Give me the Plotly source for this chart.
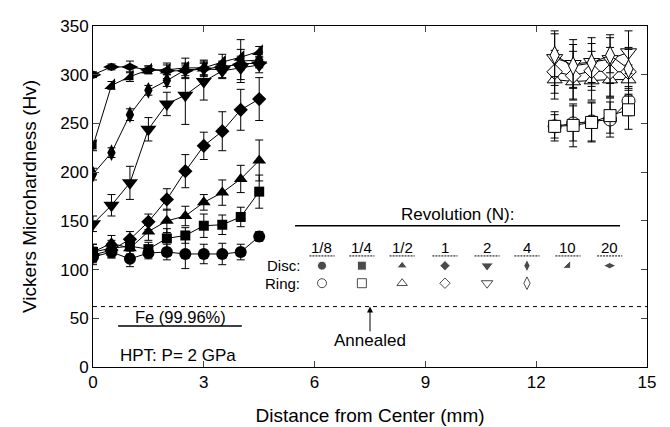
import plotly.graph_objects as go

# ---------------- data ----------------
x_disc = [0, 0.5, 1, 1.5, 2, 2.5, 3, 3.5, 4, 4.5]
disc_18 = [113, 118, 111, 117, 118, 116, 116, 116, 118, 134]
err_18 = [8, 6, 8, 6, 8, 15, 10, 11, 8, 5]
disc_14 = [118, 122, 124, 121, 132, 135, 145, 146, 154, 180]
err_14 = [8, 8, 8, 7, 10, 8, 12, 10, 10, 17]
disc_12 = [118, 127, 122, 139, 150, 155, 169, 179, 193, 212]
err_12 = [8, 8, 8, 9, 12, 10, 8, 13, 14, 21]
disc_1 = [115, 120, 131, 149, 172, 201, 227, 242, 264, 275]
err_1 = [8, 8, 8, 8, 11, 17, 14, 20, 21, 22]
disc_2 = [147, 166, 189, 244, 270, 279, 293, 304, 307, 310]
err_2 = [8, 11, 17, 12, 12, 30, 19, 8, 12, 8]
disc_4 = [198, 220, 259, 284, 294, 305, 306, 305, 314, 315]
err_4 = [6, 5, 6, 5, 6, 6, 8, 8, 22, 8]
disc_10 = [227, 289, 298, 305, 305, 307, 307, 313, 318, 324]
err_10 = [5, 4, 5, 4, 5, 10, 8, 8, 8, 5]
disc_20 = [300, 308, 308, 305, 304, 304, 306, 308, 311, 312]
err_20 = [3, 3, 6, 4, 8, 8, 6, 6, 6, 4]

x_ring = [12.5, 13, 13.5, 14, 14.5]
ring_18 = [247, 250, 252, 254, 273]
rerr_18 = [15, 18, 20, 18, 15]
ring_14 = [247, 248, 251, 258, 264]
rerr_14 = [12, 22, 20, 18, 20]
ring_12 = [295, 293, 294, 295, 295]
rerr_12 = [20, 18, 20, 18, 15]
ring_1 = [303, 299, 304, 303, 303]
rerr_1 = [22, 25, 20, 25, 25]
ring_2 = [317, 311, 313, 316, 323]
rerr_2 = [28, 25, 25, 25, 22]
ring_4 = [320, 309, 312, 320, 306]
rerr_4 = [22, 22, 20, 18, 20]

annealed_hv = 62
revolutions = ["1/8", "1/4", "1/2", "1", "2", "4", "10", "20"]

# ---------------- styles ----------------
disc_sym = ["circle", "square", "triangle-up", "diamond", "triangle-down",
            "diamond-tall", "triangle-se", "diamond-wide"]
disc_size = [12, 10, 12, 11, 14, 12, 12, 12]
ring_sym = ["circle", "square", "triangle-up", "diamond", "triangle-down", "diamond-tall"]
ring_size = [13, 12, 13, 12, 14, 13]

FONT = "Liberation Sans, Arial, sans-serif"
fig = go.Figure()

disc_y = [disc_18, disc_14, disc_12, disc_1, disc_2, disc_4, disc_10, disc_20]
disc_e = [err_18, err_14, err_12, err_1, err_2, err_4, err_10, err_20]
for i, (ys, es) in enumerate(zip(disc_y, disc_e)):
    fig.add_trace(go.Scatter(
        x=x_disc, y=ys, mode="lines+markers", name=f"Disc {revolutions[i]}",
        line=dict(color="black", width=1),
        marker=dict(symbol=disc_sym[i], size=disc_size[i], color="black"),
        error_y=dict(type="data", array=es, visible=True, color="black",
                     thickness=1, width=4),
        showlegend=False))

ring_y = [ring_18, ring_14, ring_12, ring_1, ring_2, ring_4]
ring_e = [rerr_18, rerr_14, rerr_12, rerr_1, rerr_2, rerr_4]
for i, (ys, es) in enumerate(zip(ring_y, ring_e)):
    fig.add_trace(go.Scatter(
        x=x_ring, y=ys, mode="lines+markers", name=f"Ring {revolutions[i]}",
        line=dict(color="black", width=1),
        marker=dict(symbol=ring_sym[i], size=ring_size[i], color="white",
                    line=dict(color="black", width=1)),
        error_y=dict(type="data", array=es, visible=True, color="black",
                     thickness=1, width=4),
        showlegend=False))

# ---------------- hand-made legend ----------------
leg_cols = [6.2, 7.28, 8.37, 9.53, 10.67, 11.75, 12.86, 13.99]
leg_label_y = 123
leg_under_y = 114
leg_disc_y = 104
leg_ring_y = 86

fig.add_trace(go.Scatter(
    x=leg_cols, y=[leg_disc_y] * 8, mode="markers", hoverinfo="skip",
    marker=dict(symbol=disc_sym, size=[9, 9, 9, 8, 11, 9, 9, 9], color="black"),
    showlegend=False))
fig.add_trace(go.Scatter(
    x=leg_cols[:6], y=[leg_ring_y] * 6, mode="markers", hoverinfo="skip",
    marker=dict(symbol=[s + "-open" for s in ring_sym], size=[9, 9, 9, 8, 10, 9],
                color="black", line=dict(width=1)),
    showlegend=False))

ann = []
ann.append(dict(x=9.86, y=157, text="Revolution (N):", showarrow=False,
                font=dict(size=17)))
for c, lab in zip(leg_cols, revolutions):
    ann.append(dict(x=c, y=leg_label_y, text=lab, showarrow=False, font=dict(size=15)))
ann.append(dict(x=5.65, y=leg_disc_y, text="Disc:", showarrow=False,
                xanchor="right", font=dict(size=15)))
ann.append(dict(x=5.65, y=leg_ring_y, text="Ring:", showarrow=False,
                xanchor="right", font=dict(size=15)))
ann.append(dict(x=2.36, y=51, text="Fe (99.96%)", showarrow=False, font=dict(size=16.5)))
ann.append(dict(x=0.68, y=12, text="HPT: P= 2 GPa", showarrow=False,
                xanchor="left", font=dict(size=17)))
ann.append(dict(x=7.5, y=27, text="Annealed", showarrow=False, font=dict(size=17)))
ann.append(dict(x=7.5, y=annealed_hv, ax=7.5, ay=35, xref="x", yref="y",
                axref="x", ayref="y", text="", showarrow=True, arrowhead=2,
                arrowsize=1.2, arrowwidth=1, arrowcolor="black"))

shapes = []
shapes.append(dict(type="line", x0=0, x1=15, y0=annealed_hv, y1=annealed_hv,
                   line=dict(color="black", width=1, dash="4px,4px")))
shapes.append(dict(type="line", x0=5.47, x1=14.27, y0=145, y1=145,
                   line=dict(color="black", width=1.5)))
shapes.append(dict(type="line", x0=0.68, x1=4.03, y0=42, y1=42,
                   line=dict(color="black", width=1.5)))
for c in leg_cols:
    shapes.append(dict(type="line", x0=c - 0.34, x1=c + 0.34, y0=leg_under_y,
                       y1=leg_under_y, line=dict(color="black", width=1, dash="2px,1px")))

fig.update_layout(
    width=670, height=427,
    margin=dict(l=85, r=31, t=9, b=68),
    paper_bgcolor="white", plot_bgcolor="white",
    font=dict(family=FONT, color="black", size=16),
    annotations=ann, shapes=shapes,
    xaxis=dict(range=[0, 15], tickvals=[0, 3, 6, 9, 12, 15], ticks="inside",
               ticklen=6, showline=True, mirror="ticks", linecolor="black",
               linewidth=1, showgrid=False, zeroline=False,
               tickfont=dict(size=17), ticklabeloverflow="allow",
               title=dict(text="Distance from Center (mm)", font=dict(size=19),
                          standoff=17)),
    yaxis=dict(range=[0, 350], tickvals=[0, 50, 100, 150, 200, 250, 300, 350],
               ticks="inside", ticklen=6, showline=True, mirror="ticks",
               linecolor="black", linewidth=1, showgrid=False, zeroline=False,
               tickfont=dict(size=17), ticklabeloverflow="allow",
               title=dict(text="Vickers Microhardness (Hv)", font=dict(size=19),
                          standoff=18)),
)

fig.write_html("out.html")
